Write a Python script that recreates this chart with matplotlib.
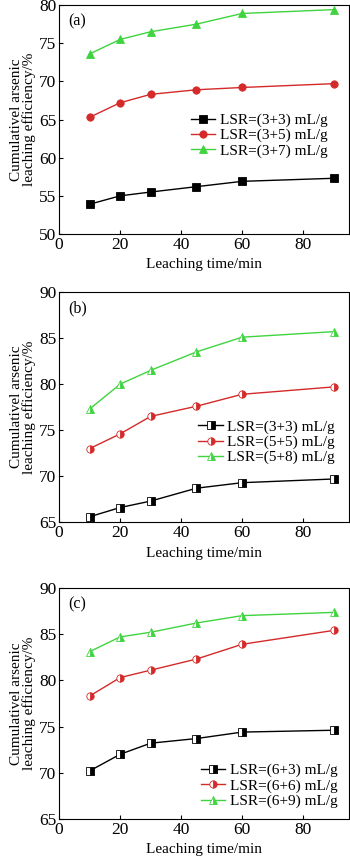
import matplotlib
matplotlib.use('Agg')
import matplotlib.pyplot as plt

plt.rcParams['font.family'] = ['Liberation Serif', 'DejaVu Serif']
plt.rcParams['font.size'] = 11

time = [10, 20, 30, 45, 60, 90]

# panel (a)
a_labels = ['LSR=(3+3) mL/g', 'LSR=(3+5) mL/g', 'LSR=(3+7) mL/g']
a_black = [53.9, 55.0, 55.5, 56.2, 56.9, 57.3]
a_red = [65.3, 67.2, 68.3, 68.9, 69.2, 69.7]
a_green = [73.6, 75.5, 76.5, 77.5, 78.9, 79.4]

# panel (b)
b_labels = ['LSR=(3+3) mL/g', 'LSR=(5+5) mL/g', 'LSR=(5+8) mL/g']
b_black = [65.6, 66.6, 67.3, 68.7, 69.3, 69.7]
b_red = [73.0, 74.6, 76.5, 77.6, 78.9, 79.7]
b_green = [77.3, 80.0, 81.5, 83.5, 85.1, 85.7]

# panel (c)
c_labels = ['LSR=(6+3) mL/g', 'LSR=(6+6) mL/g', 'LSR=(6+9) mL/g']
c_black = [70.2, 72.0, 73.2, 73.7, 74.4, 74.6]
c_red = [78.3, 80.3, 81.1, 82.3, 83.9, 85.4]
c_green = [83.1, 84.7, 85.2, 86.2, 87.0, 87.35]

colors = ['black', '#d42a2a', '#3fd43f']
markers = ['s', 'o', '^']

fig = plt.figure(figsize=(3.5, 8.59), dpi=100)

panels = [
    ('(a)', [0.169, 0.7276, 0.828, 0.2665], (50, 80), [50, 55, 60, 65, 70, 75, 80],
     [a_black, a_red, a_green], a_labels, 'full', (0.69, 0.43)),
    ('(b)', [0.169, 0.392, 0.828, 0.268], (65, 90), [65, 70, 75, 80, 85, 90],
     [b_black, b_red, b_green], b_labels, 'right', (0.716, 0.348)),
    ('(c)', [0.169, 0.0466, 0.828, 0.269], (65, 90), [65, 70, 75, 80, 85, 90],
     [c_black, c_red, c_green], c_labels, 'right', (0.724, 0.143)),
]

for tag, rect, ylim, yticks, series, labels, fill, leg_pos in panels:
    ax = fig.add_axes(rect)
    for i in range(3):
        ax.plot(time, series[i], color=colors[i], marker=markers[i],
                markersize=5.3, linewidth=1.0, fillstyle=fill,
                markerfacecoloralt='white', markeredgewidth=0.6,
                markeredgecolor=colors[i], label=labels[i])

    ax.set_xlim(0, 95)
    ax.set_ylim(*ylim)
    ax.set_xticks([0, 20, 40, 60, 80])
    ax.set_yticks(yticks)
    ax.tick_params(direction='in', length=3, width=0.8, pad=2, labelsize=12.5)

    ax.set_xlabel('Leaching time/min', labelpad=4)
    ax.set_ylabel('Cumulativel arsenic\nleaching efficiency/%',
                  linespacing=0.95, labelpad=2)

    ax.text(0.03, 0.965, tag, transform=ax.transAxes, va='top', ha='left',
            fontsize=11.5)

    ax.legend(loc='center', bbox_to_anchor=leg_pos, frameon=False,
              handlelength=1.6, handletextpad=0.3, labelspacing=0.1,
              borderpad=0.1)

plt.savefig("out.png", dpi=100)
